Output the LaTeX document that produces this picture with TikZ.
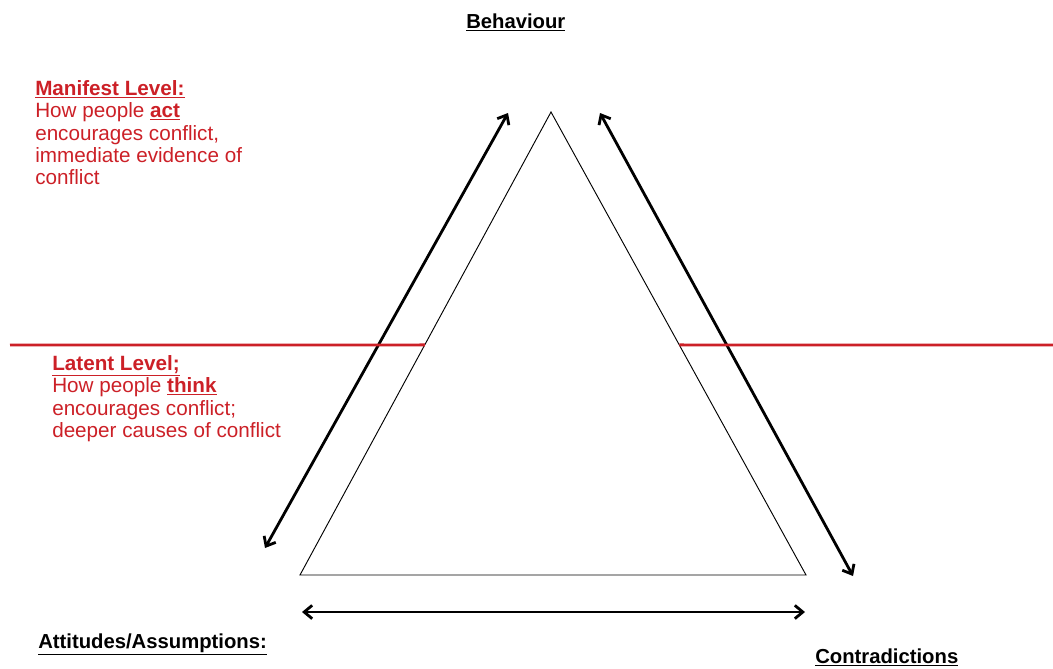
\documentclass[tikz,border=0pt]{standalone}
\usepackage{fontspec}
\setmainfont{Liberation Sans}
\usepackage{tikz}
\usetikzlibrary{arrows.meta,calc}
\definecolor{levelred}{RGB}{204,32,39}

\begin{document}
\begin{tikzpicture}[
		x=0.75pt, y=-0.75pt,
		edge/.style={draw=black, line width=0.7pt},
		link/.style={{Straight Barb[length=6pt,width=10pt]}-{Straight Barb[length=6pt,width=10pt]}, line width=2.1pt, black},
		divider/.style={draw=levelred, line width=2.1pt},
		corner/.style={font=\fontsize{15.2}{17}\selectfont\bfseries, inner sep=0pt, anchor=base west},
		level/.style={font=\fontsize{15.5}{16.8}\selectfont, text=levelred, align=left, anchor=north west, inner sep=0pt}
		]
		\useasboundingbox (0,0) rectangle (1053,668);
		
		% triangle
		\coordinate (apex) at (551,112);
		\coordinate (bl) at (300,575);
		\coordinate (br) at (806,575);
		\draw[edge] (apex) -- (bl) -- (br) -- cycle;
		
		% double arrows along the sides
		\coordinate (la) at (265,548);
		\coordinate (lb) at (508,113);
		\coordinate (ra) at (600,113);
		\coordinate (rb) at (853,576);
		\coordinate (ba) at (302,612);
		\coordinate (bb) at (805,612);
		\draw[link] (la) -- (lb);
		\draw[link] (ra) -- (rb);
		\draw[link] (ba) -- (bb);
		
		% level divider
		\coordinate (dl) at (10,345);
		\coordinate (dr) at (1053,345);
		\draw[divider] (dl) -- ($(apex)!0.503!(bl)$);
		\draw[divider] ($(apex)!0.503!(br)$) -- (dr);
		
		\node[corner] (beh) at (466,28) {\underline{Behaviour}};
		\node[corner] (att) at (38,648) {\underline{Attitudes/Assumptions:}};
		\node[corner] (con) at (815,663) {\underline{Contradictions}};
		
		\node[level] (manifest) at (35,80) {\textbf{\underline{Manifest Level:}}\\How people \textbf{\underline{act}}\\encourages conflict,\\immediate evidence of\\conflict};
		\node[level] (latent) at (52,355) {\textbf{\underline{Latent Level;}}\\How people \textbf{\underline{think}}\\encourages conflict;\\deeper causes of conflict};
\end{tikzpicture}
\end{document}
